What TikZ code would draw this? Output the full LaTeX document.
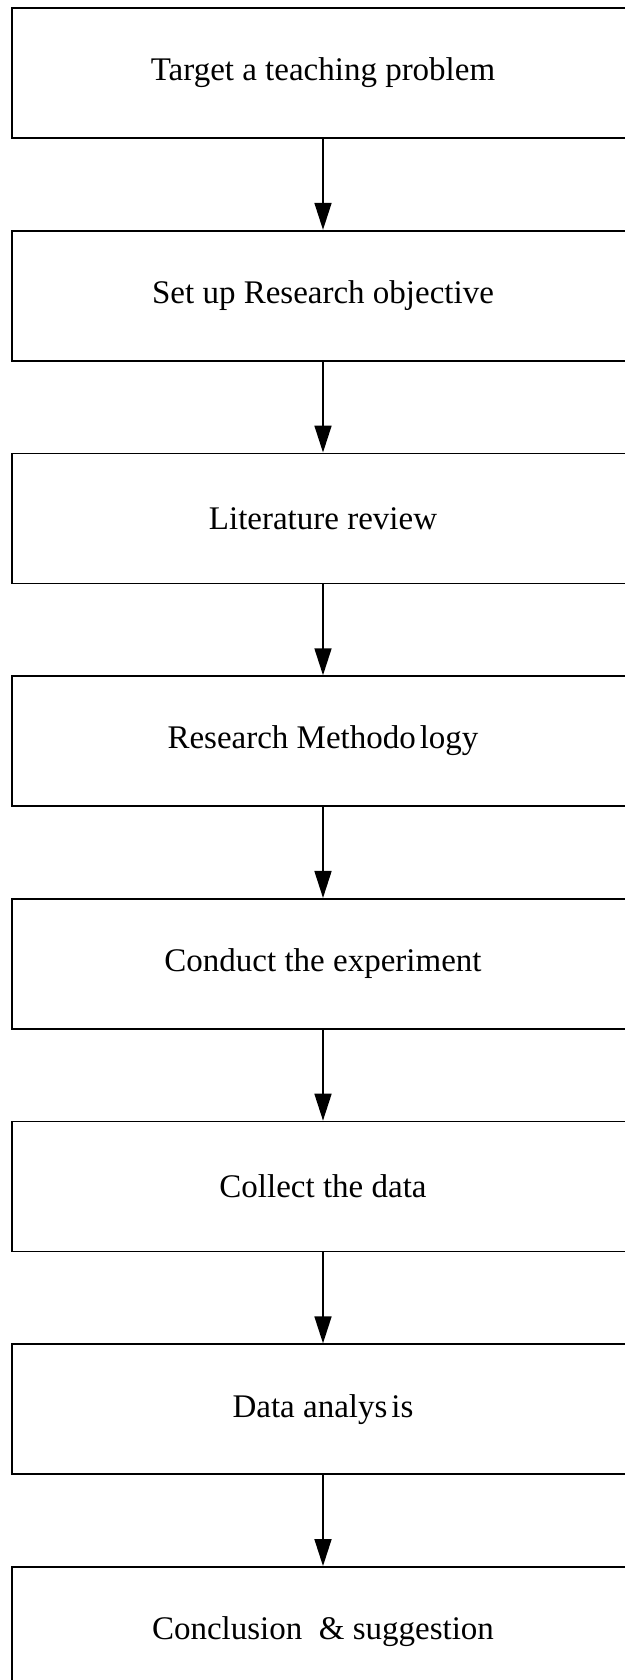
\documentclass[tikz,border=0pt]{standalone}
\usepackage{fontspec}
\setmainfont{Liberation Serif}
\usepackage{tikz}
\usetikzlibrary{arrows.meta, positioning}

\begin{document}
\begin{tikzpicture}[
  stage/.style={draw, line width=0.85pt, minimum width=311pt, minimum height=65pt,
                inner sep=0pt, font=\fontsize{16.5pt}{20pt}\selectfont},
  flow/.style={-{Triangle[length=13.5pt, width=8.5pt]}, line width=0.85pt},
  node distance=45.5pt
]
  \useasboundingbox (0,0) rectangle (312.5pt,-840pt);
  \clip (0,0) rectangle (312.5pt,-840pt);

  \node[stage] (prob) at (161.5pt,-36.5pt) {Target a teaching problem};
  \node[stage, below=of prob] (obj) {Set up Research objective};
  \node[stage, below=of obj] (lit) {Literature review};
  \node[stage, below=of lit] (meth) {Research Methodo\hspace{0.12em}logy};
  \node[stage, below=of meth] (exper) {Conduct the experiment};
  \node[stage, below=of exper] (collect) {Collect the data};
  \node[stage, below=of collect] (analysis) {Data analys\hspace{0.12em}is};
  \node[stage, below=of analysis] (concl) {Conclusion \ \& suggestion};

  \draw[flow] (prob) -- (obj);
  \draw[flow] (obj) -- (lit);
  \draw[flow] (lit) -- (meth);
  \draw[flow] (meth) -- (exper);
  \draw[flow] (exper) -- (collect);
  \draw[flow] (collect) -- (analysis);
  \draw[flow] (analysis) -- (concl);
\end{tikzpicture}
\end{document}
